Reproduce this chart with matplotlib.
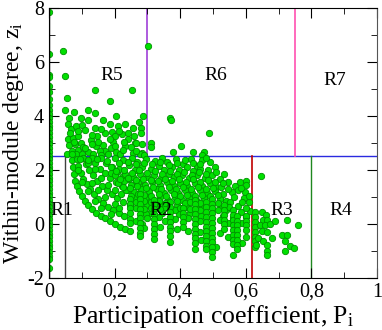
import matplotlib

matplotlib.use("Agg")

import matplotlib.pyplot as plt
from matplotlib.ticker import FixedLocator, MultipleLocator

# ---- data: (participation coefficient P, within-module degree z)
hub_z = [7.86, 6.3, 5.5, 5.44, 5.1, 4.88, 4.63, 4.4, 4.22, 4.06, 3.92, 3.79, 3.64, 3.5,
         3.37, 3.22, 3.08, 2.95, 2.81, 2.67, 2.53, 2.4, 2.26, 2.12, 1.98, 1.85, 1.71,
         1.57, 1.43, 1.3, 1.16, 1.02, 0.88, 0.74, 0.61, 0.47, 0.33, 0.19, 0.05, -0.08,
         -0.22, -0.36, -0.5, -0.63, -0.77, -0.91, -1.05, -1.18, -1.3, -1.62]

r5_pts = [
    (0.044, 6.42), (0.049, 5.46), (0.055, 4.65), (0.142, 4.97), (0.186, 4.54), (0.049, 4.2),
    (0.077, 4.14), (0.118, 4.23), (0.142, 4.11), (0.098, 3.94), (0.12, 3.86), (0.166, 3.83),
    (0.206, 3.99), (0.061, 3.91), (0.059, 3.7), (0.067, 3.52), (0.084, 3.62), (0.102, 3.67),
    (0.11, 3.49), (0.14, 3.54), (0.148, 3.25), (0.171, 3.37), (0.191, 3.42), (0.201, 3.27),
    (0.211, 3.62), (0.232, 3.7), (0.223, 3.33), (0.24, 3.37), (0.059, 3.15), (0.074, 3.17),
    (0.089, 3.25), (0.061, 2.93), (0.079, 2.96), (0.098, 3.0), (0.069, 2.71), (0.089, 2.75),
    (0.12, 2.65), (0.145, 2.88), (0.166, 2.93), (0.171, 2.71), (0.196, 3.02), (0.206, 2.65),
    (0.232, 2.9), (0.241, 3.15), (0.054, 2.59), (0.135, 2.59), (0.181, 2.59), (0.216, 2.59),
    (0.252, 4.97), (0.288, 4.01), (0.275, 3.77), (0.28, 3.54), (0.28, 3.36), (0.262, 3.0),
    (0.31, 3.0), (0.31, 2.86), (0.369, 3.91), (0.372, 3.84), (0.489, 3.36), (0.402, 2.88),
    (0.379, 2.65), (0.438, 2.65), (0.472, 2.65), (0.468, 2.55), (0.283, 2.63), (0.301, 6.58),
    (0.264, 2.99), (0.277, 2.6), (0.064, 3.35), (0.105, 2.85), (0.128, 3.1), (0.155, 2.7),
    (0.19, 2.82), (0.225, 2.75), (0.255, 2.62), (0.082, 2.6), (0.1, 2.57), (0.158, 2.56),
    (0.07, 2.6), (0.11, 2.8), (0.13, 2.95), (0.15, 3.05), (0.185, 3.15), (0.2, 2.9),
    (0.23, 3.05), (0.25, 2.85), (0.285, 2.95), (0.26, 3.25), (0.075, 3.05), (0.09, 3.45),
    (0.13, 3.3), (0.16, 3.5), (0.185, 3.7), (0.215, 3.45), (0.255, 3.55), (0.265, 2.7),
    (0.29, 2.55),
]

arc_pts = [
    (0.07, 2.35), (0.073, 2.1), (0.076, 1.85), (0.08, 1.6), (0.086, 1.4), (0.093, 1.2),
    (0.101, 1.02), (0.11, 0.85), (0.12, 0.7), (0.132, 0.55), (0.145, 0.42), (0.158, 0.3),
    (0.172, 0.2), (0.187, 0.1), (0.202, 0.0), (0.218, -0.1), (0.233, -0.18),
    (0.085, 2.4), (0.09, 2.15), (0.097, 1.9), (0.105, 1.68), (0.115, 1.47), (0.126, 1.28),
    (0.138, 1.1), (0.151, 0.93), (0.165, 0.78), (0.18, 0.64), (0.196, 0.51), (0.213, 0.39),
    (0.23, 0.28), (0.248, 0.18), (0.266, 0.09), (0.285, 0.0),
    (0.105, 2.45), (0.113, 2.22), (0.123, 2.0), (0.134, 1.8), (0.147, 1.6), (0.161, 1.42),
    (0.176, 1.25), (0.192, 1.1), (0.209, 0.95), (0.227, 0.82), (0.246, 0.7), (0.266, 0.59),
    (0.287, 0.49), (0.308, 0.4),
    (0.13, 2.45), (0.142, 2.25), (0.156, 2.05), (0.171, 1.87), (0.187, 1.7), (0.204, 1.54),
    (0.222, 1.39), (0.241, 1.25), (0.261, 1.12), (0.282, 1.0), (0.304, 0.9),
    (0.16, 2.45), (0.175, 2.27), (0.191, 2.1), (0.208, 1.94), (0.226, 1.79), (0.245, 1.65),
    (0.265, 1.52), (0.286, 1.4),
    (0.09, 2.0), (0.1, 1.55), (0.12, 1.2), (0.14, 0.85), (0.16, 0.6), (0.19, 0.35),
    (0.13, 1.5), (0.15, 1.25), (0.17, 1.0), (0.2, 0.75), (0.215, 0.6), (0.16, 1.7),
    (0.18, 1.45), (0.2, 1.25), (0.22, 1.1), (0.19, 1.9), (0.14, 2.05), (0.12, 2.25),
]

cloud_pts = [
    (0.095, 2.42), (0.118, 2.35), (0.148, 2.4), (0.178, 2.33), (0.2, 2.44), (0.226, 2.36),
    (0.252, 2.43), (0.27, 2.3), (0.296, 2.4), (0.322, 2.33), (0.345, 2.44), (0.36, 2.3),
    (0.388, 2.42), (0.41, 2.23), (0.432, 2.4), (0.45, 2.16), (0.468, 2.38), (0.49, 2.3),
    (0.19, 2.12), (0.215, 2.05), (0.245, 2.18), (0.262, 2.0), (0.285, 2.12), (0.31, 2.02),
    (0.335, 2.15), (0.352, 1.98), (0.375, 2.1), (0.398, 2.0), (0.42, 2.12), (0.44, 1.95),
    (0.462, 2.05), (0.485, 1.98), (0.505, 2.1),
    (0.2, 1.8), (0.232, 1.86), (0.255, 1.75), (0.278, 1.85), (0.3, 1.72), (0.32, 1.82),
    (0.342, 1.7), (0.365, 1.84), (0.382, 1.72), (0.405, 1.8), (0.428, 1.7), (0.452, 1.82),
    (0.475, 1.7), (0.497, 1.8), (0.52, 1.68), (0.535, 1.85),
    (0.21, 1.5), (0.228, 1.58), (0.25, 1.45), (0.272, 1.55), (0.292, 1.45), (0.315, 1.56),
    (0.338, 1.44), (0.36, 1.55), (0.38, 1.42), (0.4, 1.52), (0.422, 1.4), (0.445, 1.52),
    (0.468, 1.42), (0.49, 1.5), (0.51, 1.38), (0.524, 1.36), (0.547, 1.54), (0.567, 1.42),
    (0.582, 1.54), (0.6, 1.6), (0.6, 1.44),
    (0.235, 1.25), (0.258, 1.18), (0.28, 1.28), (0.305, 1.2), (0.328, 1.28), (0.35, 1.15),
    (0.372, 1.25), (0.393, 1.14), (0.415, 1.26), (0.437, 1.15), (0.46, 1.25), (0.482, 1.13),
    (0.505, 1.22), (0.53, 1.12), (0.557, 1.17), (0.575, 1.25), (0.598, 1.17),
    (0.262, 0.95), (0.295, 0.98), (0.318, 0.9), (0.34, 1.0), (0.362, 0.9), (0.385, 0.98),
    (0.405, 0.88), (0.428, 0.95), (0.452, 0.86), (0.472, 0.96), (0.52, 0.92), (0.54, 0.85),
    (0.552, 0.8), (0.595, 0.95), (0.61, 0.8),
    (0.3, 0.7), (0.335, 0.72), (0.355, 0.62), (0.39, 0.7), (0.42, 0.62), (0.46, 0.66),
    (0.526, 0.62), (0.577, 0.68), (0.54, 0.5), (0.585, 0.45), (0.613, 0.49),
    (0.295, 0.35), (0.345, 0.4), (0.395, 0.35), (0.43, 0.4), (0.465, 0.3), (0.53, 0.3),
    (0.56, 0.2), (0.6, 0.25), (0.562, -1.17),
    (0.215, 2.25), (0.24, 2.3), (0.265, 2.2), (0.29, 2.25), (0.315, 2.2), (0.34, 2.28),
    (0.365, 2.18), (0.39, 2.25), (0.415, 2.35), (0.44, 2.27), (0.46, 2.2), (0.48, 2.45),
    (0.205, 1.95), (0.228, 1.98), (0.252, 1.9), (0.275, 1.98), (0.298, 1.88), (0.322, 1.96),
    (0.345, 1.86), (0.368, 1.95), (0.39, 1.86), (0.412, 1.93), (0.435, 1.82), (0.458, 1.93),
    (0.48, 1.85), (0.51, 1.93),
    (0.218, 1.68), (0.242, 1.7), (0.265, 1.62), (0.288, 1.66), (0.31, 1.62), (0.332, 1.58),
    (0.355, 1.68), (0.375, 1.58), (0.395, 1.66), (0.418, 1.56), (0.44, 1.66), (0.462, 1.56),
    (0.485, 1.64), (0.505, 1.55), (0.53, 1.5),
    (0.225, 1.35), (0.248, 1.32), (0.27, 1.4), (0.295, 1.32), (0.318, 1.38), (0.342, 1.3),
    (0.365, 1.38), (0.388, 1.3), (0.41, 1.36), (0.432, 1.3), (0.455, 1.36), (0.478, 1.28),
    (0.5, 1.34), (0.545, 1.3), (0.585, 1.32),
    (0.25, 1.05), (0.272, 1.12), (0.29, 1.08), (0.312, 1.05), (0.335, 1.12), (0.358, 1.03),
    (0.38, 1.1), (0.4, 1.02), (0.422, 1.08), (0.445, 1.02), (0.468, 1.08), (0.49, 1.04),
    (0.515, 1.06), (0.565, 1.0), (0.61, 1.05),
    (0.265, 0.8), (0.29, 0.85), (0.31, 0.8), (0.335, 0.86), (0.355, 0.78), (0.39, 0.84),
    (0.415, 0.78), (0.43, 0.8), (0.46, 0.78), (0.515, 0.78), (0.59, 0.8),
    (0.29, 0.55), (0.31, 0.6), (0.34, 0.56), (0.385, 0.52), (0.4, 0.58), (0.43, 0.55),
    (0.46, 0.5), (0.515, 0.5), (0.55, 0.62), (0.6, 0.6),
    (0.3, 0.2), (0.335, 0.25), (0.355, 0.1), (0.385, 0.18), (0.425, 0.2), (0.46, 0.12),
    (0.52, 0.15), (0.545, 0.05), (0.59, 0.05),
    (0.29, -0.15), (0.34, -0.1), (0.39, -0.2), (0.425, -0.25), (0.46, -0.3), (0.52, -0.35),
    (0.545, -0.5), (0.59, -0.7), (0.51, -0.85), (0.465, -0.6),
]

stack_pts = [
    (0.247, 0.93), (0.247, 0.75), (0.247, 0.57), (0.247, 0.39), (0.247, 0.02), (0.247, -0.26),
    (0.277, 1.1), (0.277, 0.92), (0.277, 0.74), (0.277, 0.56), (0.277, 0.38), (0.277, 0.2),
    (0.277, 0.02), (0.277, -0.16), (0.277, -0.34), (0.277, -0.44),
    (0.32, 0.9), (0.32, 0.72), (0.32, 0.54), (0.32, 0.36), (0.32, 0.18), (0.32, 0.0),
    (0.32, -0.18), (0.32, -0.36), (0.32, -0.55),
    (0.368, 0.8), (0.368, 0.62), (0.368, 0.44), (0.368, 0.26), (0.368, 0.08), (0.368, -0.1),
    (0.368, -0.28), (0.368, -0.46), (0.368, -0.66),
    (0.41, 0.6), (0.41, 0.42), (0.41, 0.24), (0.41, 0.06), (0.41, -0.1),
    (0.445, 0.9), (0.445, 0.72), (0.445, 0.54), (0.445, 0.36), (0.445, 0.18), (0.445, 0.0),
    (0.445, -0.18), (0.445, -0.36), (0.445, -0.54), (0.445, -0.72), (0.445, -0.92),
    (0.48, 0.8), (0.48, 0.62), (0.48, 0.44), (0.48, 0.26), (0.48, 0.08), (0.48, -0.1),
    (0.48, -0.28), (0.48, -0.46), (0.48, -0.64), (0.48, -0.82), (0.48, -0.92),
    (0.497, 0.93), (0.497, 0.75), (0.497, 0.57), (0.497, 0.39), (0.497, 0.21), (0.497, 0.03),
    (0.497, -0.15), (0.497, -0.33), (0.497, -0.51), (0.497, -0.69), (0.497, -0.87),
    (0.497, -1.05), (0.497, -1.22),
    (0.535, 0.7), (0.535, 0.52), (0.535, 0.34), (0.535, 0.16), (0.535, -0.02), (0.535, -0.2),
    (0.56, 0.5), (0.56, 0.32), (0.56, 0.14), (0.56, -0.04), (0.56, -0.22), (0.56, -0.4),
    (0.56, -0.58), (0.56, -0.76),
    (0.572, 0.3), (0.572, 0.12), (0.572, -0.06), (0.572, -0.24), (0.572, -0.42),
    (0.572, -0.6), (0.572, -0.78), (0.572, -0.93),
    (0.6, 0.3), (0.6, 0.12), (0.6, -0.06), (0.6, -0.24), (0.6, -0.5),
    (0.628, 0.43), (0.628, 0.25), (0.628, 0.07), (0.628, -0.11), (0.628, -0.29),
    (0.628, -0.47), (0.628, -0.65), (0.628, -0.85),
]

r3_pts = [
    (0.646, 1.77), (0.648, 0.43), (0.662, 0.33), (0.651, 0.16), (0.665, 0.16), (0.643, -0.04),
    (0.659, -0.06), (0.674, 0.0), (0.648, -0.25), (0.665, -0.31), (0.679, -0.53),
    (0.638, -0.53), (0.653, -0.65), (0.665, -0.8), (0.665, -0.99), (0.665, -1.15),
    (0.631, -0.78), (0.689, 0.09), (0.726, 0.15), (0.76, -0.04), (0.709, -0.41),
    (0.725, -0.41), (0.72, -0.65), (0.735, -0.82), (0.747, -0.89), (0.72, -1.0),
]

x_ticks = [0, 0.2, 0.4, 0.6, 0.8, 1.0]
x_tick_labels = ["0", "0,2", "0,4", "0,6", "0,8", "1"]
y_ticks = [-2, 0, 2, 4, 6, 8]
y_tick_labels = ["-2", "0", "2", "4", "6", "8"]

plt.rcParams["font.family"] = ["Liberation Serif", "DejaVu Serif"]
plt.rcParams["mathtext.fontset"] = "custom"
plt.rcParams["mathtext.rm"] = "Liberation Serif"
plt.rcParams["mathtext.it"] = "Liberation Serif:italic"

fig = plt.figure(figsize=(3.82, 3.30), dpi=100)
ax = fig.add_axes([0.128, 0.158, 0.859, 0.818])

# role boundaries
ax.axhline(2.5, color="#2a2ae0", lw=1.0, zorder=1)
ax.plot([0.05, 0.05], [-2, 2.5], color="#404040", lw=1.0, zorder=1)
ax.plot([0.62, 0.62], [-2, 2.5], color="#c00000", lw=1.2, zorder=1)
ax.plot([0.80, 0.80], [-2, 2.5], color="#208820", lw=1.0, zorder=1)
ax.plot([0.30, 0.30], [2.5, 8], color="#a040d8", lw=1.2, zorder=1)
ax.plot([0.75, 0.75], [2.5, 8], color="#ff50b0", lw=1.2, zorder=1)

all_pts = r5_pts + arc_pts + cloud_pts + stack_pts + r3_pts
px = [0.0] * len(hub_z) + [p for p, _ in all_pts]
pz = list(hub_z) + [z for _, z in all_pts]
ax.scatter(px, pz, s=21, color="#00e000", edgecolors="#009000", linewidths=0.6, zorder=2)
ax.axvline(0, color="black", lw=1.0, zorder=3)

for label, xp, yp in [("R1", 0.04, 0.5), ("R2", 0.34, 0.5), ("R3", 0.71, 0.5),
                      ("R4", 0.89, 0.5), ("R5", 0.19, 5.5), ("R6", 0.51, 5.5),
                      ("R7", 0.87, 5.3)]:
    ax.text(xp, yp, label, fontsize=14, ha="center", va="center", zorder=4)

ax.set_xlim(0, 1)
ax.set_ylim(-2, 8)
ax.xaxis.set_major_locator(FixedLocator(x_ticks))
ax.set_xticklabels(x_tick_labels)
ax.yaxis.set_major_locator(FixedLocator(y_ticks))
ax.set_yticklabels(y_tick_labels)
ax.xaxis.set_minor_locator(MultipleLocator(0.1))
ax.yaxis.set_minor_locator(MultipleLocator(1))
ax.tick_params(which="both", direction="in", top=True, right=True, labelsize=14.5)
ax.tick_params(which="major", length=7)
ax.tick_params(which="minor", length=4)
ax.spines["right"].set_color("#555555")

ax.set_xlabel("Participation coefficient, P$_\\mathrm{i}$", fontsize=18.5, labelpad=1)
ax.set_ylabel("Within-module degree, z$_\\mathrm{i}$", fontsize=17, labelpad=1)

fig.savefig("out.png", dpi=100)
